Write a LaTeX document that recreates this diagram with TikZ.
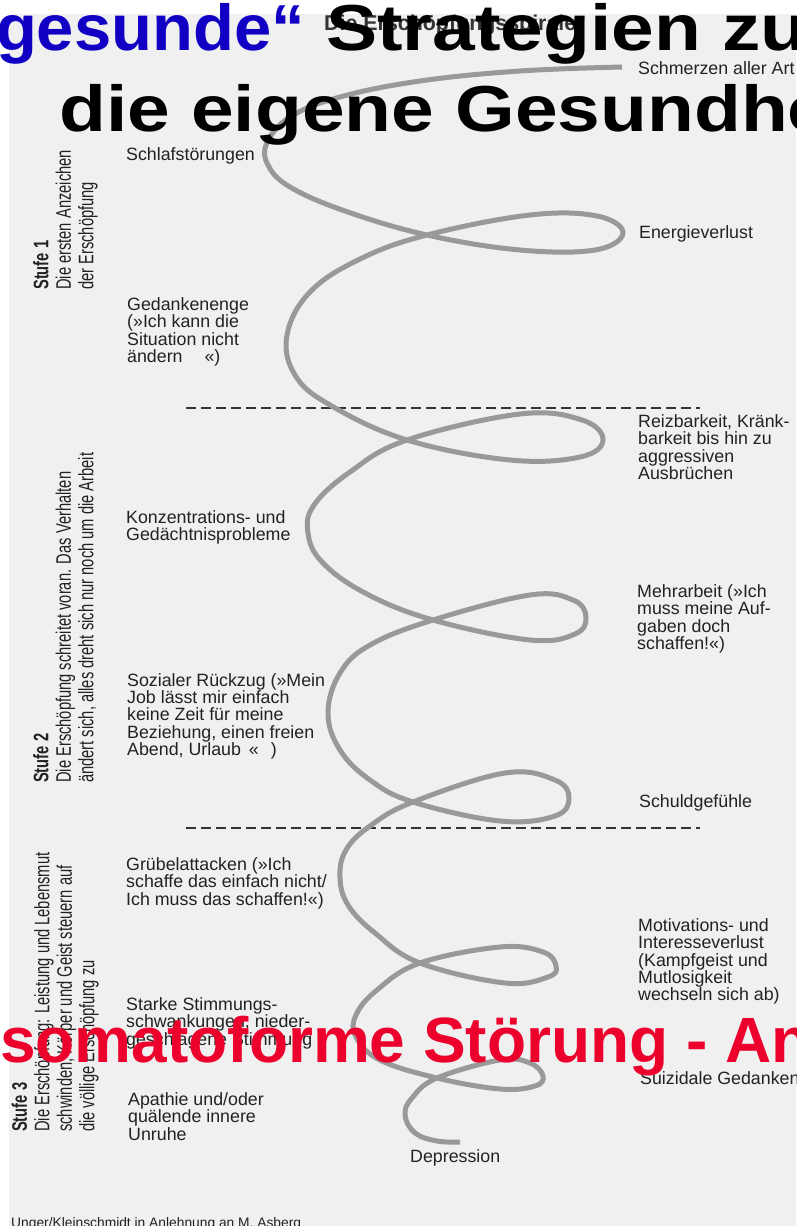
\documentclass[tikz,border=0pt]{standalone}
\usepackage{fontspec}
\setmainfont{Liberation Sans}
\newfontfamily\narrowfont[FakeStretch=0.70]{Liberation Sans}
\newfontfamily\titlefont[FakeStretch=1.18]{Liberation Sans}
\newfontfamily\bluefont[FakeStretch=1.03]{Liberation Sans}
\newfontfamily\redfont{Liberation Sans}
\definecolor{panel}{RGB}{240,240,240}
\definecolor{labelcol}{RGB}{34,34,34}
\definecolor{spiralcol}{RGB}{153,153,153}
\definecolor{tblue}{RGB}{17,0,196}
\definecolor{tred}{RGB}{236,0,44}
\definecolor{dashcol}{RGB}{51,51,51}
\tikzset{
  lbl/.style={anchor=north west, inner sep=0pt, align=left, font=\fontsize{17.8}{17.3}\selectfont, text=labelcol},
  side/.style={rotate=90, anchor=north west, inner sep=0pt, align=left, font=\narrowfont\fontsize{21}{22.5}\selectfont, text=labelcol},
  bigtitle/.style={inner sep=0pt, font=\titlefont\bfseries\fontsize{65}{65}\selectfont},
  bluetitle/.style={inner sep=0pt, font=\bluefont\bfseries\fontsize{65}{65}\selectfont, text=tblue},
  redtitle/.style={inner sep=0pt, font=\redfont\bfseries\fontsize{64}{64}\selectfont, text=tred},
  spiral/.style={draw=spiralcol, line width=5pt},
  divider/.style={draw=dashcol, line width=1.3pt, dash pattern=on 9.5pt off 5.5pt}
}
\begin{document}
\begin{tikzpicture}[x=1pt, y=-1pt]
\useasboundingbox (0,0) rectangle (796,1226);
\fill[white] (0,0) rectangle (796,1226);
\fill[panel] (9,14) rectangle (796,1226);

% subtitle
\node[anchor=base west, inner sep=0pt, font=\bfseries\fontsize{21.4}{21.4}\selectfont, text=black!80] (subtitle) at (324,30) {Die Erschöpfungsspirale};

% dividers
\coordinate (d1a) at (186,408); \coordinate (d1b) at (700,408);
\coordinate (d2a) at (186,828); \coordinate (d2b) at (700,828);
\draw[divider] (d1a) -- (d1b);
\draw[divider] (d2a) -- (d2b);

% spiral
\draw[spiral] plot[smooth, tension=0.65] coordinates {
(622,67) (520,71) (420,81) (340,97) (290,117) (267,143) (268,165) (290,187) (345,211) (427,235)
(520,250) (595,250) (623,233) (597,216) (530,215) (427,235)
(360,259) (310,292) (287,335) (295,375) (330,405) (407,440)
(510,460) (580,457) (603,440) (582,420) (520,414) (407,440)
(350,472) (314,505) (308,533) (322,562) (365,593) (433,620)
(530,640) (575,634) (586,617) (573,600) (530,595) (433,620)
(370,645) (340,673) (328,713) (340,750) (370,780) (413,802)
(500,821) (555,816) (569,798) (555,780) (505,773) (413,802)
(370,826) (346,850) (340,877) (348,905) (375,933) (420,963)
(505,983) (548,977) (556,966) (543,952) (500,947) (420,963)
(377,990) (356,1015) (356,1037) (380,1060) (437,1078)
(500,1089) (535,1086) (543,1076) (530,1063) (500,1060) (437,1078)
(412,1098) (405,1115) (415,1133) (437,1141) (460,1142)};

% labels
\node[lbl] (schmerz) at (638,61) {Schmerzen aller Art};
\node[lbl] (schlaf) at (126,147) {Schlafstörungen};
\node[lbl] (energie) at (639,225.5) {Energieverlust};
\node[lbl] (gedanken) at (127,297.5) {Gedankenenge\\(»Ich kann die\\Situation nicht\\ändern\hspace{22pt}«)};
\node[lbl] (reiz) at (638,414.5) {Reizbarkeit, Kränk-\\barkeit bis hin zu\\aggressiven\\Ausbrüchen};
\node[lbl] (konz) at (126,510.5) {Konzentrations- und\\Gedächtnisprobleme};
\node[lbl] (mehr) at (637,584.5) {Mehrarbeit (»Ich\\muss meine Auf-\\gaben doch\\schaffen!«)};
\node[lbl] (sozial) at (127,673) {Sozialer Rückzug (»Mein\\Job lässt mir einfach\\keine Zeit für meine\\Beziehung, einen freien\\Abend, Urlaub\hspace{8pt}«\hspace{12pt})};
\node[lbl] (schuld) at (639,794.5) {Schuldgefühle};
\node[lbl] (gruebel) at (126,857.5) {Grübelattacken (»Ich\\schaffe das einfach nicht/\\Ich muss das schaffen!«)};
\node[lbl] (motiv) at (638,918.5) {Motivations- und\\Interesseverlust\\(Kampfgeist und\\Mutlosigkeit\\wechseln sich ab)};
\node[lbl] (starke) at (126,997.5) {Starke Stimmungs-\\schwankungen, nieder-\\geschlagene Stimmung};
\node[lbl] (suizid) at (640,1071.5) {Suizidale Gedanken};
\node[lbl] (apathie) at (128,1092.5) {Apathie und/oder\\quälende innere\\Unruhe};
\node[lbl] (depr) at (410,1149.5) {Depression};

% stage texts
\node[side] (s1) at (33,290) {\textbf{Stufe 1}\\Die ersten Anzeichen\\der Erschöpfung};
\node[side] (s2) at (33,783) {\textbf{Stufe 2}\\Die Erschöpfung schreitet voran. Das Verhalten\\ändert sich, alles dreht sich nur noch um die Arbeit};
\node[side] (s3) at (11.5,1132) {\textbf{Stufe 3}\\Die Erschöpfung: Leistung und Lebensmut\\schwinden, Körper und Geist steuern auf\\die völlige Erschöpfung zu};

% footer
\node[anchor=base west, inner sep=0pt, font=\fontsize{13.8}{13.8}\selectfont, text=labelcol] (footer) at (11,1227) {Unger/Kleinschmidt in Anlehnung an M. Asberg};

% overlaid titles
\node[bluetitle, anchor=base east] (t1a) at (305,50) {gesunde“};
\node[bigtitle, anchor=base west, text=black] (t1b) at (326,50) {Strategien zu};
\node[bigtitle, anchor=base west, text=black] (t2) at (59,131) {die eigene Gesundhe};
\node[redtitle, anchor=base west] (red) at (0,1062) {somatoforme Störung - An};
\end{tikzpicture}
\end{document}
